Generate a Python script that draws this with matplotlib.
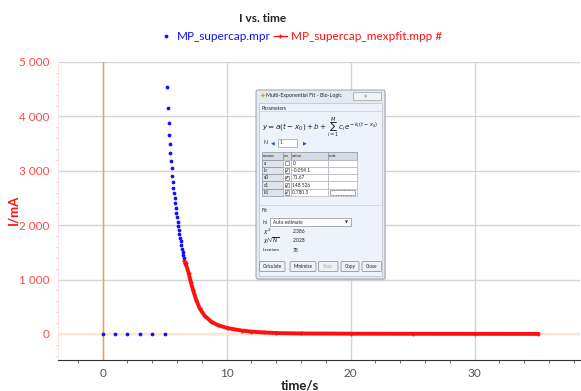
import matplotlib
matplotlib.use("Agg")
import matplotlib.pyplot as plt
from matplotlib.patches import Rectangle, FancyBboxPatch
from matplotlib.ticker import MultipleLocator, FixedLocator

plt.rcParams['font.family'] = ['Lato', 'DejaVu Sans']

# measured points (MP_supercap.mpr)
meas_t = [0, 1, 2, 3, 4, 5, 5.21, 5.27, 5.35, 5.38, 5.40, 5.46, 5.51, 5.56, 5.62, 5.67,
          5.70, 5.75, 5.81, 5.86, 5.89, 5.94, 5.99, 6.05, 6.08, 6.13, 6.18, 6.24,
          6.29, 6.34, 6.40, 6.45, 6.51, 6.56, 6.61, 6.66]
meas_i = [0, 0, 0, 0, 0, 0, 4540, 4148, 3873, 3658, 3493, 3321, 3180, 3045, 2910, 2800,
          2690, 2586, 2494, 2402, 2310, 2230, 2145, 2065, 1985, 1912, 1838, 1771,
          1703, 1636, 1569, 1507, 1446, 1391, 1330, 1290]

# multi-exponential fit (MP_supercap_mexpfit.mpp)
fit_t = [6.62, 6.69, 6.94, 7.10, 7.29, 7.55, 7.82, 8.23, 8.76, 9.30, 10.1, 11.2,
         12.0, 13.0, 14.0, 16.0, 20.0, 25.0, 30.0, 35.1]
fit_i = [1330, 1300, 1116, 962, 809, 625, 472, 331, 226, 160, 105, 62,
         42, 26, 16, 8, 4, 2, 1, 0]

x_ticks = [0, 10, 20, 30]
y_ticks = [0, 1000, 2000, 3000, 4000, 5000]

W, H = 581, 391
fig = plt.figure(figsize=(W / 100, H / 100), dpi=100)
ax = fig.add_axes([58 / W, 1 - 360 / H, (580 - 58) / W, (360 - 62) / H])

red = '#ff1010'
blue = '#1010ff'

ax.axhline(0, color='#fde4d0', lw=1.6, zorder=1)
ax.axvline(0, color='#f7a038', lw=1.0, zorder=1)

ax.plot(meas_t, meas_i, linestyle='none', marker='o', ms=1.7, color=blue,
        label='MP_supercap.mpr', zorder=3)
ax.plot(fit_t, fit_i, color=red, lw=2.8, marker='+', ms=3, mew=1,
        label='MP_supercap_mexpfit.mpp #', zorder=4)

ax.set_xlim(-3.6, 38.5)
ax.set_ylim(-480, 5000)
ax.xaxis.set_major_locator(FixedLocator(x_ticks))
ax.xaxis.set_minor_locator(MultipleLocator(2))
ax.yaxis.set_major_locator(FixedLocator(y_ticks))
ax.yaxis.set_minor_locator(MultipleLocator(200))
ax.set_yticklabels([f"{v:,}".replace(",", " ") for v in y_ticks])

ax.grid(True, which='major', color='#d4d4d4', lw=1.0)
ax.set_axisbelow(True)
for s in ['top', 'right']:
    ax.spines[s].set_visible(False)
ax.spines['bottom'].set_color('#333333')
ax.spines['left'].set_color('#ffe0e0')
ax.tick_params(axis='x', which='major', length=0, labelsize=8.5, colors='#555555', pad=6)
ax.tick_params(axis='x', which='minor', length=2.5, color='#555555')
ax.tick_params(axis='y', which='major', length=0, labelsize=8.5, labelcolor='#ff4a4a', pad=6)
ax.tick_params(axis='y', which='minor', length=2.5, color='#ffc8c8')

fig.text(263 / W, 1 - 18 / H, 'I vs. time', ha='center', va='center',
         fontsize=8.5, fontweight='bold', color='#222222')
fig.text(13 / W, 1 - 210 / H, 'I/mA', ha='center', va='center', rotation=90,
         fontsize=9.5, fontweight='bold', color=red)
fig.text(300 / W, 1 - 386 / H, 'time/s', ha='center', va='center',
         fontsize=9.5, fontweight='bold', color='#222222')

leg = ax.legend(loc='center', bbox_to_anchor=(301 / W, 1 - 37 / H),
                bbox_transform=fig.transFigure, ncol=2, frameon=False,
                fontsize=8.5, handlelength=1.1, handletextpad=0.4,
                columnspacing=0.2, labelcolor='linecolor', markerscale=1.0)
for h in leg.legend_handles:
    h.set_linewidth(1.0)

# ---- embedded fit dialog (drawn in image pixel coordinates) ----
dx0, dy0, dx1, dy1 = 254, 88, 388, 282
d = fig.add_axes([dx0 / W, 1 - dy1 / H, (dx1 - dx0) / W, (dy1 - dy0) / H])
d.set_xlim(dx0, dx1)
d.set_ylim(dy1, dy0)
d.axis('off')


def box(x0, y0, x1, y1, fc, ec='#8a8f99', lw=0.5, z=2):
    d.add_patch(Rectangle((x0, y0), x1 - x0, y1 - y0, facecolor=fc,
                          edgecolor=ec, lw=lw, zorder=z))


def txt(x, y, s, size=3.6, color='#222222', **kw):
    d.text(x, y, s, fontsize=size, color=color, va='center', ha='left', zorder=6, **kw)


# shadow + window frame
d.add_patch(FancyBboxPatch((257, 91), 129, 190, boxstyle='round,pad=0,rounding_size=2',
                           facecolor='#c8c8c8', edgecolor='none', alpha=0.5, zorder=1))
d.add_patch(FancyBboxPatch((256, 90), 129, 189, boxstyle='round,pad=0,rounding_size=2',
                           facecolor='#e4eaf4', edgecolor='#8d939c', lw=0.6, zorder=2))
txt(259.5, 96, '\u2726', size=5, color='#f0a020', family=['DejaVu Sans'])
txt(266, 96, 'Multi-Exponential Fit - Bio-Logic', size=3.8)
box(353, 91.5, 381, 100, '#f2f2f2', ec='#9aa0a8')
txt(364, 95.8, '\u00d7', size=4, color='#555555')
box(259, 103, 382, 276, '#eef2fa', ec='#b8c0cc')

# parameters group
txt(262, 108, 'Parameters', size=3.6)
d.plot([260, 381], [111, 111], color='#c8d0dc', lw=0.5, zorder=3)
txt(262, 127, r'$y=a(t-x_0)+b+\sum_{i=1}^{M}c_i\,e^{-k_i\,(t-x_0)}$', size=5.2)
txt(263, 143, 'N', size=3.6)
txt(271, 143, '\u25c0', size=3.5, color='#2050d0', family=['DejaVu Sans'])
box(278, 139, 297, 147, 'white', ec='#9aa0a8')
txt(280, 143, '1', size=3.5)
txt(303, 143, '\u25b6', size=3.5, color='#2050d0', family=['DejaVu Sans'])

# parameter table
cols = [262, 283, 291, 328, 357]
row_y = [152, 159.5, 166.8, 174.1, 181.4, 188.7, 196]
headers = ['names', 'on', 'value', 'unit']
p_names = ['a', 'b', 'x0', 'c1', 'k1']
p_on = [False, True, True, True, True]
p_vals = ['0', '-0.054 1', '71.67', '148 526', '0.780 3']
for j in range(4):
    box(cols[j], row_y[0], cols[j + 1], row_y[1], '#d6dbe3', ec='#8a8f99')
    txt(cols[j] + 1.2, (row_y[0] + row_y[1]) / 2, headers[j], size=3.2)
for r in range(5):
    y0, y1 = row_y[r + 1], row_y[r + 2]
    yc = (y0 + y1) / 2
    box(cols[0], y0, cols[1], y1, '#dfe3ea', ec='#8a8f99')
    box(cols[1], y0, cols[2], y1, 'white', ec='#b0b4bc')
    box(cols[2], y0, cols[3], y1, 'white', ec='#b0b4bc')
    box(cols[3], y0, cols[4], y1, 'white', ec='#b0b4bc')
    txt(cols[0] + 1.5, yc, p_names[r], size=3.4)
    box(cols[1] + 1.5, yc - 2.2, cols[1] + 5.5, yc + 2.2, 'white', ec='#555555', lw=0.4, z=4)
    if p_on[r]:
        txt(cols[1] + 1.6, yc, '\u2714', size=3.4, color='#222222', family=['DejaVu Sans'])
    txt(cols[2] + 1.5, yc, p_vals[r], size=3.4)
d.plot([330, 355, 355, 330, 330], [190, 190, 195, 195, 190], color='#222222',
       lw=0.4, ls=(0, (2, 1)), zorder=5)

# fit group
d.plot([260, 381], [205, 205], color='#c8d0dc', lw=0.5, zorder=3)
txt(262, 211, 'Fit', size=3.6)
txt(263, 222, 'ini', size=3.4)
box(270, 218, 351, 226, 'white', ec='#8a8f99')
txt(273, 222, 'Auto estimate', size=3.4)
txt(345, 222, '\u25bc', size=2.8, color='#222222', family=['DejaVu Sans'])
txt(263, 231.5, r'$\chi^2$', size=4.4)
txt(293, 231.5, '2.386', size=3.6)
txt(263, 241, r'$\chi/\sqrt{N}$', size=4.0)
txt(293, 241, '2.028', size=3.6)
txt(263, 250, 'Iterations', size=3.0)
txt(293, 250, '78', size=3.6)

buttons = [('Calculate', 259.5, 285), ('Minimize', 290, 316), ('Stop', 318.5, 338),
           ('Copy', 341, 359), ('Close', 362, 381.5)]
for label, bx0, bx1 in buttons:
    d.add_patch(FancyBboxPatch((bx0, 261.5), bx1 - bx0, 10,
                               boxstyle='round,pad=0,rounding_size=1.2',
                               facecolor='#edf0f5', edgecolor='#7f8690', lw=0.5, zorder=3))
    d.text((bx0 + bx1) / 2, 266.5, label, fontsize=3.4, ha='center', va='center',
           color='#aaaaaa' if label == 'Stop' else '#222222', zorder=6)

fig.savefig('out.png', dpi=100)
